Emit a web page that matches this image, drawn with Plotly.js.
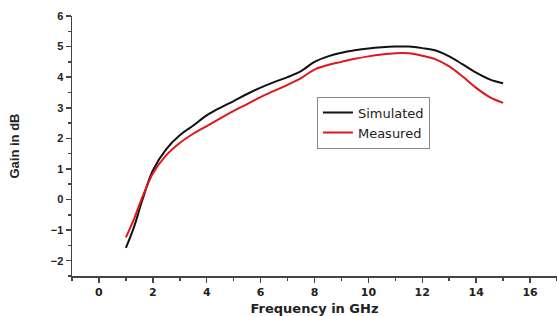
<!DOCTYPE html>
<html>
<head>
<meta charset="utf-8">
<script src="https://cdn.plot.ly/plotly-3.0.1.min.js"></script>
<style>html,body{margin:0;padding:0;background:#fff}#chart{width:557px;height:316px}</style>
</head>
<body>
<div id="chart"></div>
<script>
var freq = [1, 1.3, 1.6, 2, 2.5, 3, 3.5, 4, 4.5, 5, 5.5, 6, 6.5, 7, 7.5, 8, 8.5, 9, 9.5, 10, 10.5, 11, 11.5, 12, 12.5, 13, 13.5, 14, 14.5, 15];
var simulated = [-1.58, -0.9, -0.05, 0.95, 1.65, 2.1, 2.42, 2.75, 3.0, 3.22, 3.45, 3.66, 3.84, 4.0, 4.2, 4.5, 4.68, 4.8, 4.88, 4.94, 4.98, 5.0, 5.0, 4.95, 4.87, 4.68, 4.42, 4.15, 3.93, 3.8];
var measured = [-1.24, -0.64, 0.05, 0.85, 1.45, 1.85, 2.15, 2.4, 2.65, 2.9, 3.12, 3.35, 3.55, 3.75, 3.97, 4.25, 4.4, 4.5, 4.6, 4.68, 4.74, 4.78, 4.78, 4.7, 4.58, 4.35, 4.02, 3.65, 3.35, 3.16];
var seriesNames = ["Simulated", "Measured"];

var traces = [
  {x: freq, y: simulated, name: seriesNames[0], type: "scatter", mode: "lines",
   line: {color: "#111111", width: 2, shape: "spline"}},
  {x: freq, y: measured, name: seriesNames[1], type: "scatter", mode: "lines",
   line: {color: "#e0161b", width: 2, shape: "spline"}}
];

var yTickFont = {family: "Liberation Sans, Arial, sans-serif", size: 11, color: "#222", weight: "bold"};
var xTickFont = {family: "DejaVu Sans, sans-serif", size: 11, color: "#222", weight: "bold"};
var xTitleFont = {family: "DejaVu Sans, sans-serif", size: 13, color: "#222", weight: "bold"};
var yTitleFont = {family: "Liberation Sans, Arial, sans-serif", size: 13, color: "#222", weight: "bold"};

var layout = {
  width: 557, height: 316,
  margin: {l: 72, r: 0, t: 16, b: 40},
  paper_bgcolor: "#fff", plot_bgcolor: "#fff",
  showlegend: true,
  legend: {x: 0.505, y: 0.69, xanchor: "left", yanchor: "top",
    bordercolor: "#888", borderwidth: 1, bgcolor: "#fff",
    font: {family: "DejaVu Sans, sans-serif", size: 13, color: "#222"},
    tracegroupgap: 0, itemwidth: 30},
  xaxis: {range: [-1, 17], dtick: 2, tick0: 0, showgrid: false, zeroline: false,
    showline: true, linecolor: "#444", linewidth: 1.5,
    ticks: "outside", ticklen: 5, tickcolor: "#444", tickwidth: 1.5,
    minor: {dtick: 1, tick0: 0, ticks: "outside", ticklen: 3, tickcolor: "#444", showgrid: false},
    tickfont: xTickFont,
    title: {text: "Frequency in GHz", font: xTitleFont, standoff: 8}},
  yaxis: {range: [-2.5, 6], dtick: 1, tick0: 0, showgrid: false, zeroline: false,
    showline: true, linecolor: "#444", linewidth: 1.5,
    ticks: "outside", ticklen: 5, tickcolor: "#444", tickwidth: 1.5,
    minor: {dtick: 0.5, tick0: 0, ticks: "outside", ticklen: 3, tickcolor: "#444", showgrid: false},
    tickfont: yTickFont,
    title: {text: "Gain in dB", font: yTitleFont, standoff: 28}}
};

Plotly.newPlot("chart", traces, layout, {displayModeBar: false, staticPlot: true});
</script>
</body>
</html>
